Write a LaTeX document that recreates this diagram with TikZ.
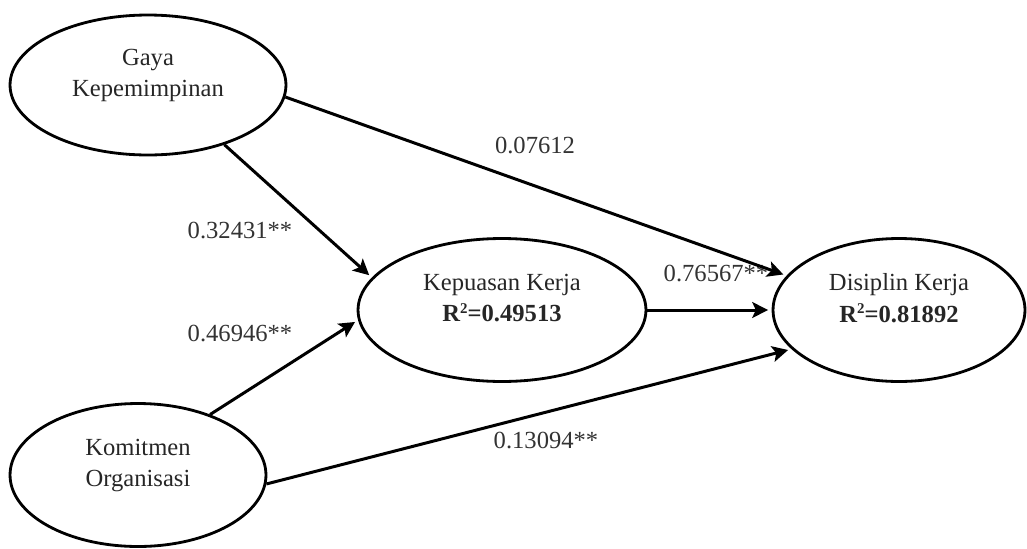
\documentclass[tikz,border=0pt]{standalone}
\usepackage{fontspec}
\setmainfont{Liberation Serif}
\usepackage{tikz}
\usetikzlibrary{shapes}
\usetikzlibrary{arrows.meta}
\newcommand{\rsq}{R\raisebox{.75ex}{\fontsize{8.5}{8.5}\selectfont 2}}
\tikzset{
	main node/.style={ellipse,draw,line width=1.6pt,align=center,text=black!85,
		font=\fontsize{14}{18}\selectfont,text depth=14pt},
	coef/.style={text=black!80,font=\fontsize{14}{17}\selectfont}
}

\begin{document}
\begin{tikzpicture}[->,>={Stealth[length=9pt,width=9pt,inset=2pt]},x=0.02cm,y=-0.02cm,line width=1.7pt]
	    \useasboundingbox (0,0) rectangle (1027,548);

	    \node[main node,minimum width=5.52cm,minimum height=2.8cm] (1) at (148,85) {Gaya\\Kepemimpinan};
	    \node[main node,minimum width=5.12cm,minimum height=2.86cm] (2) at (138,475) {Komitmen\\Organisasi};
	    \node[main node,minimum width=5.76cm,minimum height=2.86cm] (3) at (502,310) {Kepuasan Kerja\\\textbf{\rsq=0.49513}};
	    \node[main node,minimum width=5.04cm,minimum height=2.86cm] (4) at (899,310) {Disiplin Kerja\\\textbf{\rsq=0.81892}};

	    \node[coef] (c1) at (535,145) {0.07612};
	    \node[coef] (c2) at (240,230) {0.32431**};
	    \node[coef] (c3) at (240,333) {0.46946**};
	    \node[coef] (c4) at (716,273) {0.76567**};
	    \node[coef] (c5) at (546,440) {0.13094**};

	    \path[shorten >=2pt]
	      (1.-38) edge (3.166)
	      (1.-5) edge (4.163)
	      (2.40) edge (3.-176)
	      (2.-4) edge (4.-160)
	      (3.east) edge (4.west);
	  \end{tikzpicture}
\end{document}
